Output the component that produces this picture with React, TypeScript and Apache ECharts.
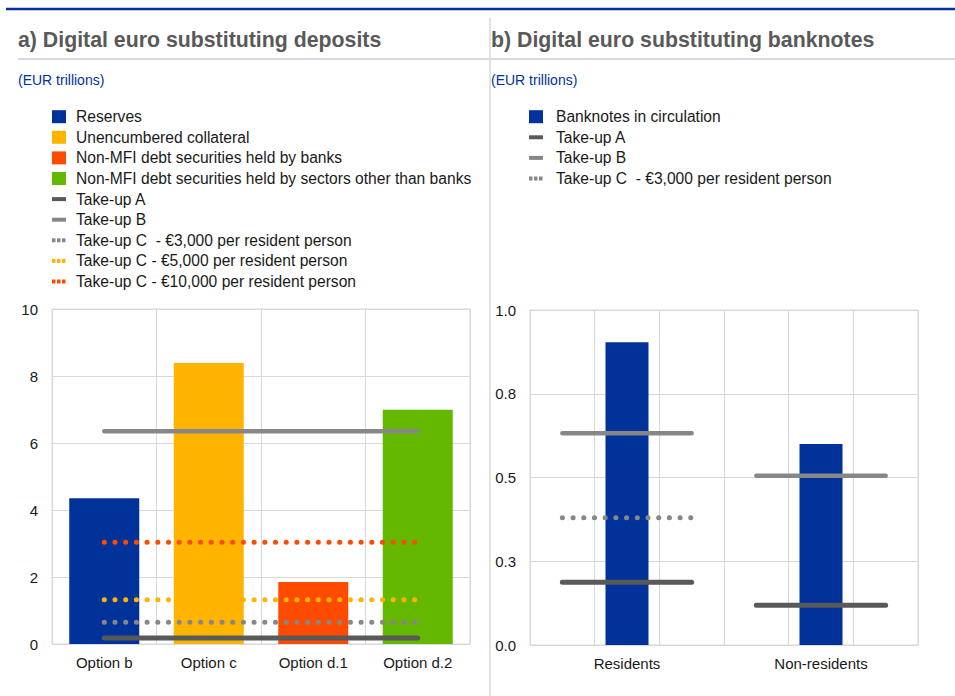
import React, { useEffect, useRef } from "react";
import * as echarts from "echarts";

// ---------- data ----------
const optionCategories = ["Option b", "Option c", "Option d.1", "Option d.2"];
const reserves = [4.35, null, null, null];
const unencumberedCollateral = [null, 8.39, null, null];
const nonMfiBanks = [null, null, 1.85, null];
const nonMfiOtherSectors = [null, null, null, 6.99];
const depTakeUpA = [0.18, 0.18, 0.18, 0.18];
const depTakeUpB = [6.35, 6.35, 6.35, 6.35];
const depTakeUpC3000 = [0.65, 0.65, 0.65, 0.65];
const depTakeUpC5000 = [1.32, 1.32, 1.32, 1.32];
const depTakeUpC10000 = [3.04, 3.04, 3.04, 3.04];
const depTicks = { min: 0, max: 10, interval: 2 };

const holderCategories = ["Residents", "Non-residents"];
const holderSubSlots = ["r1", "r2", "r3", "n1", "n2", "n3"];
const banknotesInCirculation = [0.904, 0.6];
const bnTakeUpAResidents = [0.187, 0.187, 0.187, null, null, null];
const bnTakeUpANonResidents = [null, null, null, 0.119, 0.119, 0.119];
const bnTakeUpBResidents = [0.632, 0.632, 0.632, null, null, null];
const bnTakeUpBNonResidents = [null, null, null, 0.505, 0.505, 0.505];
const bnTakeUpCResidents = [0.38, 0.38, 0.38, null, null, null];
const bnTicks = { min: 0, max: 1, interval: 0.25 };

const titleA = "a) Digital euro substituting deposits";
const titleB = "b) Digital euro substituting banknotes";
const unitLabel = "(EUR trillions)";

// ---------- styles ----------
const BLUE = "#003299";
const YELLOW = "#FFB400";
const RED = "#FF4B00";
const GREEN = "#65B800";
const DARKGREY = "#595959";
const GREY = "#878787";
const GRID = "#d9d9d9";
const FONT = '"Liberation Sans", Arial, sans-serif';
const TXT = "#1a1a1a";

type LegendKind = "rect" | "solid" | "dots";
const legendA: [string, LegendKind, string][] = [
  ["Reserves", "rect", BLUE],
  ["Unencumbered collateral", "rect", YELLOW],
  ["Non-MFI debt securities held by banks", "rect", RED],
  ["Non-MFI debt securities held by sectors other than banks", "rect", GREEN],
  ["Take-up A", "solid", DARKGREY],
  ["Take-up B", "solid", GREY],
  ["Take-up C  - €3,000 per resident person", "dots", GREY],
  ["Take-up C - €5,000 per resident person", "dots", YELLOW],
  ["Take-up C - €10,000 per resident person", "dots", RED],
];
const legendB: [string, LegendKind, string][] = [
  ["Banknotes in circulation", "rect", BLUE],
  ["Take-up A", "solid", DARKGREY],
  ["Take-up B", "solid", GREY],
  ["Take-up C  - €3,000 per resident person", "dots", GREY],
];

function legendGraphics(items: [string, LegendKind, string][], iconX: number, textX: number, y0: number, step: number) {
  const out: any[] = [];
  items.forEach(([name, kind, color], i) => {
    const cy = y0 + i * step;
    if (kind === "rect") {
      out.push({ type: "rect", shape: { x: iconX, y: cy - 6.5, width: 14, height: 13 }, style: { fill: color } });
    } else if (kind === "solid") {
      out.push({ type: "rect", shape: { x: iconX, y: cy - 2, width: 14, height: 4 }, style: { fill: color } });
    } else {
      for (let k = 0; k < 3; k++) {
        out.push({ type: "rect", shape: { x: iconX + k * 5, y: cy - 2, width: 3.5, height: 4 }, style: { fill: color } });
      }
    }
    out.push({
      type: "text",
      x: textX,
      y: cy,
      style: { text: name, fill: TXT, font: `15.6px ${FONT}`, verticalAlign: "middle", align: "left" },
    });
  });
  return out;
}

const dotted = (color: string) => ({ color, width: 5, type: [0.1, 10.6], cap: "round" as const });
const solid = (color: string, width: number) => ({ color, width, type: "solid" as const, cap: "round" as const });

function lineSeries(name: string, data: (number | null)[], xAxisIndex: number, yAxisIndex: number, lineStyle: any) {
  return {
    name,
    type: "line",
    xAxisIndex,
    yAxisIndex,
    data,
    symbol: "none",
    showSymbol: false,
    connectNulls: false,
    lineStyle,
    itemStyle: { color: lineStyle.color },
    z: 5,
    silent: true,
  };
}

function barSeries(name: string, data: (number | null)[], color: string, xAxisIndex: number, yAxisIndex: number, barWidth: number, stack?: string) {
  return {
    name,
    type: "bar",
    xAxisIndex,
    yAxisIndex,
    data,
    stack,
    barWidth,
    itemStyle: { color },
    z: 2,
    silent: true,
  };
}

export default function App() {
  const ref = useRef<HTMLDivElement>(null);
  useEffect(() => {
    if (!ref.current) return;
    const chart = echarts.init(ref.current, null, { renderer: "svg" });
    const axisLabel = { fontSize: 15, color: TXT, fontFamily: FONT };
    const option: any = {
      animation: false,
      textStyle: { fontFamily: FONT },
      graphic: [
        { type: "line", shape: { x1: 6, y1: 9, x2: 955, y2: 9 }, style: { stroke: BLUE, lineWidth: 2.5 } },
        { type: "line", shape: { x1: 18, y1: 59, x2: 955, y2: 59 }, style: { stroke: GRID, lineWidth: 2 } },
        { type: "line", shape: { x1: 490, y1: 18, x2: 490, y2: 696 }, style: { stroke: GRID, lineWidth: 1.5 } },
        { type: "text", x: 18, y: 40, style: { text: titleA, fill: "#595959", font: `bold 21.3px ${FONT}`, verticalAlign: "middle" } },
        { type: "text", x: 491, y: 40, style: { text: titleB, fill: "#595959", font: `bold 21.3px ${FONT}`, verticalAlign: "middle" } },
        { type: "text", x: 18, y: 80, style: { text: unitLabel, fill: BLUE, font: `14px ${FONT}`, verticalAlign: "middle" } },
        { type: "text", x: 491, y: 80, style: { text: unitLabel, fill: BLUE, font: `14px ${FONT}`, verticalAlign: "middle" } },
        ...legendGraphics(legendA, 52, 76, 116.7, 20.6),
        ...legendGraphics(legendB, 529, 556, 116.7, 20.6),
      ],
      grid: [
        { left: 52, top: 309, width: 418, height: 335, show: true, borderColor: GRID, borderWidth: 1, containLabel: false },
        { left: 530, top: 310, width: 388, height: 335, show: true, borderColor: GRID, borderWidth: 1, containLabel: false },
      ],
      xAxis: [
        {
          gridIndex: 0,
          type: "category",
          data: optionCategories,
          axisTick: { show: false },
          axisLine: { lineStyle: { color: GRID } },
          splitLine: { show: true, lineStyle: { color: GRID } },
          axisLabel: { ...axisLabel, margin: 11 },
        },
        {
          gridIndex: 1,
          type: "category",
          data: holderCategories,
          axisTick: { show: false },
          axisLine: { lineStyle: { color: GRID } },
          splitLine: { show: true, lineStyle: { color: GRID } },
          axisLabel: { ...axisLabel, margin: 11 },
        },
        {
          gridIndex: 1,
          type: "category",
          position: "top",
          data: holderSubSlots,
          axisTick: { show: false },
          axisLine: { show: false },
          axisLabel: { show: false },
          splitLine: { show: true, lineStyle: { color: GRID } },
        },
      ],
      yAxis: [
        {
          gridIndex: 0,
          type: "value",
          min: depTicks.min,
          max: depTicks.max,
          interval: depTicks.interval,
          axisLine: { show: false },
          axisTick: { show: false },
          splitLine: { lineStyle: { color: GRID } },
          axisLabel: { ...axisLabel, margin: 14 },
        },
        {
          gridIndex: 1,
          type: "value",
          min: bnTicks.min,
          max: bnTicks.max,
          interval: bnTicks.interval,
          axisLine: { show: false },
          axisTick: { show: false },
          splitLine: { lineStyle: { color: GRID } },
          axisLabel: { ...axisLabel, margin: 14, formatter: (v: number) => v.toFixed(1) },
        },
      ],
      series: [
        barSeries("Reserves", reserves, BLUE, 0, 0, 70, "dep"),
        barSeries("Unencumbered collateral", unencumberedCollateral, YELLOW, 0, 0, 70, "dep"),
        barSeries("Non-MFI debt securities held by banks", nonMfiBanks, RED, 0, 0, 70, "dep"),
        barSeries("Non-MFI debt securities held by sectors other than banks", nonMfiOtherSectors, GREEN, 0, 0, 70, "dep"),
        lineSeries("Take-up C - €5,000 per resident person", depTakeUpC5000, 0, 0, dotted(YELLOW)),
        lineSeries("Take-up C  - €3,000 per resident person", depTakeUpC3000, 0, 0, dotted(GREY)),
        lineSeries("Take-up C - €10,000 per resident person", depTakeUpC10000, 0, 0, dotted(RED)),
        lineSeries("Take-up B", depTakeUpB, 0, 0, solid(GREY, 4.5)),
        lineSeries("Take-up A", depTakeUpA, 0, 0, solid(DARKGREY, 5)),

        barSeries("Banknotes in circulation", banknotesInCirculation, BLUE, 1, 1, 43),
        lineSeries("Take-up C  - €3,000 per resident person", bnTakeUpCResidents, 2, 1, dotted(GREY)),
        lineSeries("Take-up B", bnTakeUpBResidents, 2, 1, solid(GREY, 4.5)),
        lineSeries("Take-up B", bnTakeUpBNonResidents, 2, 1, solid(GREY, 4.5)),
        lineSeries("Take-up A", bnTakeUpAResidents, 2, 1, solid(DARKGREY, 5)),
        lineSeries("Take-up A", bnTakeUpANonResidents, 2, 1, solid(DARKGREY, 5)),
      ],
    };
    chart.setOption(option);
    return () => chart.dispose();
  }, []);
  return (
    <div
      ref={ref}
      style={{ position: "absolute", left: 0, top: 0, width: 955, height: 696, background: "#fff" }}
    />
  );
}
